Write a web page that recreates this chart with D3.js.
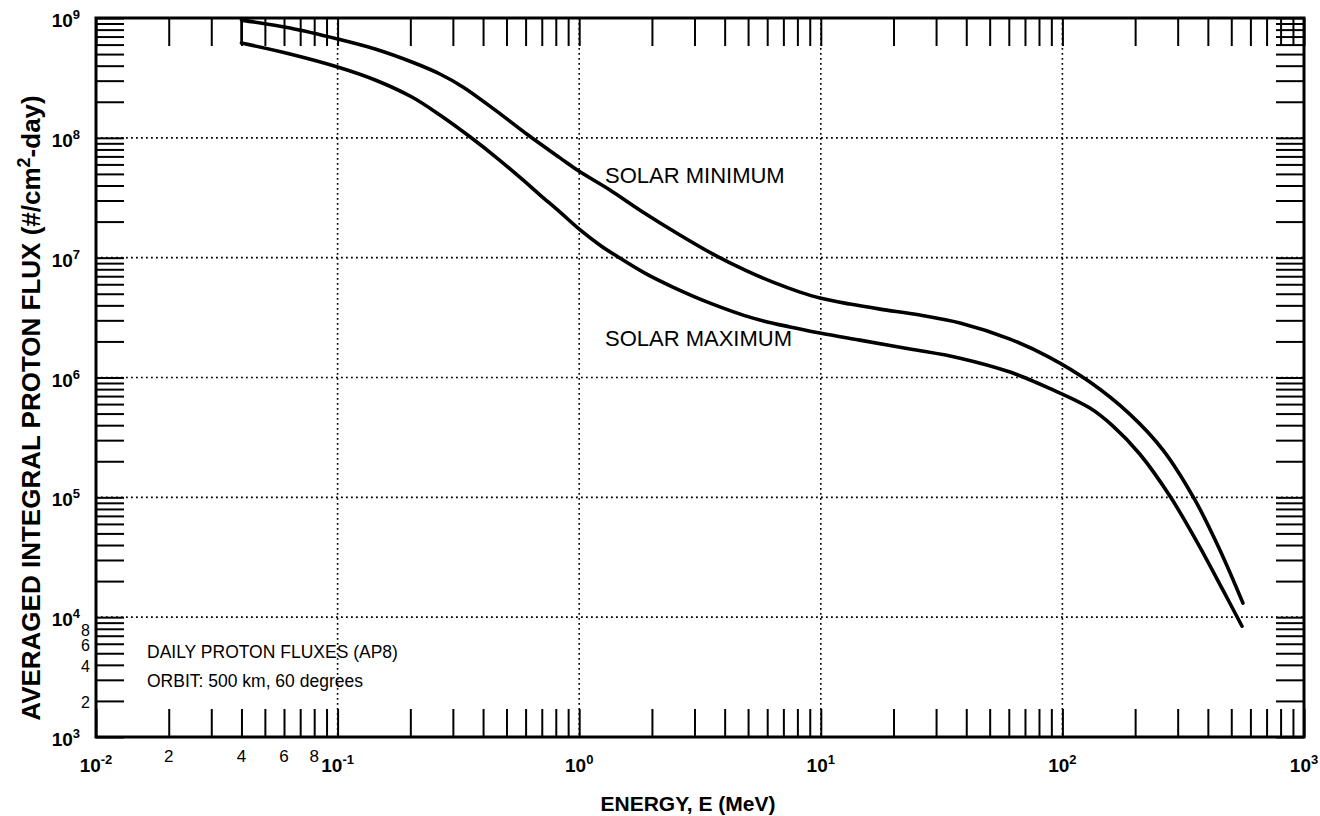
<!DOCTYPE html>
<html>
<head>
<meta charset="utf-8">
<script src="https://cdn.jsdelivr.net/npm/d3@7"></script>
<style>
  body { margin: 0; background: #fff; }
  svg { display: block; font-family: "Liberation Sans", Arial, Helvetica, sans-serif; }
</style>
</head>
<body>
<div id="chart"></div>
<script>
// donnees (energie en MeV, flux en #/cm2-day)
const energyMin = [0.04, 0.0635, 0.1, 0.143, 0.203, 0.265, 0.33, 0.448, 0.608, 0.833,
                   1.0, 1.34, 1.785, 2.61, 3.58, 4.86, 6.34, 8.2, 9.92, 13.2,
                   17.6, 25.7, 37.7, 60.7, 88, 130, 190, 261, 354, 449, 559];
const fluxMin = [9.6e8, 8.25e8, 6.68e8, 5.51e8, 4.29e8, 3.41e8, 2.66e8, 1.71e8, 1.07e8, 6.8e7,
                 5.25e7, 3.67e7, 2.49e7, 1.545e7, 1.07e7, 7.87e6, 6.25e6, 5.16e6, 4.6e6, 4.1e6,
                 3.72e6, 3.32e6, 2.85e6, 2.09e6, 1.48e6, 9.16e5, 4.95e5, 2.48e5, 9.48e4, 3.62e4, 1.31e4];

const energyMax = [0.04, 0.0635, 0.1, 0.143, 0.203, 0.265, 0.353, 0.457, 0.585, 0.689,
                   0.833, 1.0, 1.22, 1.43, 1.87, 2.44, 3.48, 5.24, 7.46, 9.92,
                   14.5, 23.4, 37.7, 60.7, 88, 130, 162, 209, 279, 361, 462, 554];
const fluxMax = [6.18e8, 5.01e8, 3.9e8, 3.04e8, 2.19e8, 1.55e8, 1.02e8, 6.78e7, 4.45e7, 3.33e7,
                 2.4e7, 1.73e7, 1.27e7, 1.03e7, 7.43e6, 5.69e6, 4.18e6, 3.13e6, 2.64e6, 2.35e6,
                 2.05e6, 1.73e6, 1.45e6, 1.11e6, 8.16e5, 5.56e5, 3.93e5, 2.3e5, 1.02e5, 4.23e4, 1.68e4, 8.4e3];

const xDecades = [-2, -1, 0, 1, 2, 3];
const yDecades = [3, 4, 5, 6, 7, 8, 9];
const xMinorLabels = [2, 4, 6, 8];          // sous 10^-1
const yMinorLabels = [2, 4, 6, 8];          // entre 10^3 et 10^4

const width = 1320, height = 816;
const margin = { top: 18, right: 16, bottom: 79, left: 96 };
const x0 = margin.left, x1 = width - margin.right;
const y0 = margin.top, y1 = height - margin.bottom;
const tickLen = 28;

const svg = d3.select("#chart").append("svg")
    .attr("width", width)
    .attr("height", height);

const x = d3.scaleLog().domain([1e-2, 1e3]).range([x0, x1]);
const y = d3.scaleLog().domain([1e3, 1e9]).range([y1, y0]);

// grille pointillee aux decades
const grid = svg.append("g")
    .attr("stroke", "#000")
    .attr("stroke-width", 1.6)
    .attr("stroke-dasharray", "1.8,3.2");

grid.selectAll(".gx")
  .data([1e-1, 1e0, 1e1, 1e2])
  .join("line")
    .attr("x1", d => x(d)).attr("x2", d => x(d))
    .attr("y1", y0).attr("y2", y1);

grid.selectAll(".gy")
  .data([1e4, 1e5, 1e6, 1e7, 1e8])
  .join("line")
    .attr("y1", d => y(d)).attr("y2", d => y(d))
    .attr("x1", x0).attr("x2", x1);

// graduations vers l'interieur sur les 4 cotes
function styleAxis(g) {
  g.select(".domain").remove();
  g.selectAll(".tick line").attr("stroke", "#000").attr("stroke-width", 2);
}

svg.append("g").attr("transform", `translate(0,${y1})`)
  .call(d3.axisBottom(x).tickSize(-tickLen).tickFormat("")).call(styleAxis);
svg.append("g").attr("transform", `translate(0,${y0})`)
  .call(d3.axisTop(x).tickSize(-tickLen).tickFormat("")).call(styleAxis);
svg.append("g").attr("transform", `translate(${x0},0)`)
  .call(d3.axisLeft(y).tickSize(-tickLen).tickFormat("")).call(styleAxis);
svg.append("g").attr("transform", `translate(${x1},0)`)
  .call(d3.axisRight(y).tickSize(-tickLen).tickFormat("")).call(styleAxis);

// cadre
svg.append("rect")
    .attr("x", x0).attr("y", y0)
    .attr("width", x1 - x0).attr("height", y1 - y0)
    .attr("fill", "none")
    .attr("stroke", "#000")
    .attr("stroke-width", 3);

// courbes
const line = d3.line()
    .x(d => x(d[0]))
    .y(d => y(d[1]))
    .curve(d3.curveCatmullRom.alpha(0.5));

const minData = energyMin.map((e, i) => [e, fluxMin[i]]);
const maxData = energyMax.map((e, i) => [e, fluxMax[i]]);

svg.selectAll(".curve")
  .data([minData, maxData])
  .join("path")
    .attr("d", line)
    .attr("fill", "none")
    .attr("stroke", "#000")
    .attr("stroke-width", 3.6)
    .attr("stroke-linecap", "round");

// trait qui ferme la bande a gauche
svg.append("line")
    .attr("x1", x(energyMin[0])).attr("x2", x(energyMax[0]))
    .attr("y1", y(fluxMin[0])).attr("y2", y(fluxMax[0]))
    .attr("stroke", "#000")
    .attr("stroke-width", 2.4);

// etiquettes axe x
const xLab = svg.append("g").attr("font-weight", "bold").attr("font-size", 19);
xDecades.forEach(p => {
  const t = xLab.append("text")
      .attr("x", x(Math.pow(10, p)))
      .attr("y", 772)
      .attr("text-anchor", "middle");
  t.append("tspan").text("10");
  t.append("tspan").attr("dy", -8).attr("font-size", 13).text(p);
});

svg.append("g").attr("font-size", 17)
  .selectAll("text")
  .data(xMinorLabels)
  .join("text")
    .attr("x", d => x(d / 100))
    .attr("y", 762)
    .attr("text-anchor", "middle")
    .text(d => d);

// etiquettes axe y
const yLab = svg.append("g").attr("font-weight", "bold").attr("font-size", 19);
yDecades.forEach(p => {
  const t = yLab.append("text")
      .attr("x", 80)
      .attr("y", y(Math.pow(10, p)) + 9)
      .attr("text-anchor", "end");
  t.append("tspan").text("10");
  t.append("tspan").attr("dy", -8).attr("font-size", 13).text(p);
});

svg.append("g").attr("font-size", 16)
  .selectAll("text")
  .data(yMinorLabels)
  .join("text")
    .attr("x", 90)
    .attr("y", d => y(d * 1000) + 7)
    .attr("text-anchor", "end")
    .text(d => d);

// titres des axes
svg.append("text")
    .attr("x", 688)
    .attr("y", 811)
    .attr("text-anchor", "middle")
    .attr("font-weight", "bold")
    .attr("font-size", 21)
    .text("ENERGY, E (MeV)");

const yTitle = svg.append("text")
    .attr("transform", "translate(40,408) rotate(-90)")
    .attr("text-anchor", "middle")
    .attr("font-weight", "bold")
    .attr("font-size", 26);
yTitle.append("tspan").text("AVERAGED INTEGRAL PROTON FLUX (#/cm");
yTitle.append("tspan").attr("dy", -10).attr("font-size", 18).text("2");
yTitle.append("tspan").attr("dy", 10).text("-day)");

// annotations
const notes = svg.append("g").attr("font-size", 22);
notes.append("text").attr("x", 605).attr("y", 183).text("SOLAR MINIMUM");
notes.append("text").attr("x", 605).attr("y", 346).text("SOLAR MAXIMUM");

const info = svg.append("g").attr("font-size", 17.5);
info.append("text").attr("x", 147).attr("y", 658).text("DAILY PROTON FLUXES (AP8)");
info.append("text").attr("x", 147).attr("y", 687).text("ORBIT: 500 km, 60 degrees");
</script>
</body>
</html>
